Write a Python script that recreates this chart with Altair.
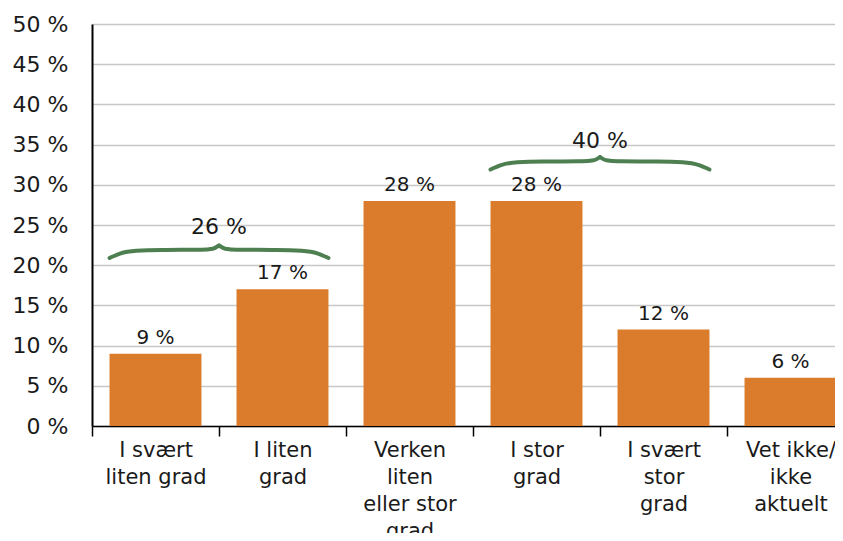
import json
import altair as alt
import pandas as pd

# ---- data ----
categories = ["I svært\nliten grad", "I liten\ngrad", "Verken\nliten\neller stor\ngrad",
              "I stor\ngrad", "I svært\nstor\ngrad", "Vet ikke/\nikke\naktuelt"]
values = [9, 17, 28, 28, 12, 6]

group_labels = ["26 %", "40 %"]
group_start = [0, 3]          # index of first category in each bracket
group_level = [21.9, 32.9]    # y level (%) of the bracket's flat part
group_label_y = [24.8, 35.4]  # y (%) of the bracket's label

# brace profile (half brace): x offset in category units, y offset in %
brace_dx = [0.138, 0.22, 0.35, 0.55, 0.86, 0.95, 1.0]
brace_dy = [-1.0, -0.45, -0.1, 0.0, 0.02, 0.15, 0.55]

BAR = "#DA7C2C"
GREEN = "#4D7F51"
FONT = "DejaVu Sans"
TEXT = "#1a1a1a"
PLOT_W = 743          # visible plot width (the reference is cropped at the right)
STEP = 127            # pixel width of one category slot in the reference
BAR_FRAC = 0.724
X_MAX = PLOT_W / STEP

n = len(categories)
bars_df = pd.DataFrame({"idx": list(range(n)), "val": values,
                        "lab": [f"{v} %" for v in values]})
bars_df["x0"] = bars_df["idx"] + (1 - BAR_FRAC) / 2
bars_df["x1"] = bars_df["idx"] + (1 + BAR_FRAC) / 2
bars_df["xc"] = bars_df["idx"] + 0.5

rows = []
for g, (s, lvl) in enumerate(zip(group_start, group_level)):
    for half in (0, 1):
        for dx, dy in zip(brace_dx, brace_dy):
            x = s + dx if half == 0 else s + 2 - dx
            rows.append({"seg": f"{g}-{half}", "x": x, "val": lvl + dy})
brace_df = pd.DataFrame(rows)
glab_df = pd.DataFrame({"x": [s + 1 for s in group_start], "val": group_label_y,
                        "lab": group_labels})

cat_js = "[" + ",".join(json.dumps(c, ensure_ascii=False) for c in categories) + "]"
label_expr = f"split({cat_js}[round(datum.value - 0.5)], '\\n')"

xscale = alt.Scale(domain=[0, X_MAX], nice=False, zero=False)
x_labels_axis = alt.Axis(values=[i + 0.5 for i in range(n)], labelExpr=label_expr,
                         labelAngle=0, labelLineHeight=27, labelPadding=13,
                         labelFontSize=21, labelFont=FONT, labelColor=TEXT,
                         ticks=False, domainColor="black", domainWidth=1.5,
                         grid=False, labelLimit=300, labelFlush=False,
                         labelOverlap=False, orient="bottom")
x_ticks_axis = alt.Axis(values=list(range(n)), labels=False, ticks=True, tickSize=10,
                        tickWidth=1.5, tickColor="black", domain=False, grid=False,
                        orient="bottom")

yq = alt.Y("val:Q", title=None,
           scale=alt.Scale(domain=[0, 50], nice=False),
           axis=alt.Axis(values=list(range(0, 55, 5)), labelExpr="datum.value + ' %'",
                         labelFontSize=22, labelFont=FONT, labelColor=TEXT,
                         labelPadding=24, ticks=False, domainColor="black",
                         domainWidth=2, gridColor="#C8C8C8", gridWidth=1.5))

bars = alt.Chart(bars_df).mark_bar(color=BAR).encode(
    x=alt.X("x0:Q", scale=xscale, axis=x_labels_axis, title=None),
    x2="x1:Q", y=yq, y2=alt.datum(0))
bar_text = alt.Chart(bars_df).mark_text(font=FONT, fontSize=20, color=TEXT,
                                         baseline="alphabetic", dy=-10).encode(
    x=alt.X("xc:Q", scale=xscale), y=yq, text="lab:N")
base = alt.layer(bars, bar_text)

xq = alt.X("x:Q", scale=xscale, axis=x_ticks_axis, title=None)
braces = alt.Chart(brace_df).mark_line(color=GREEN, strokeWidth=4, interpolate="monotone",
                                       strokeCap="round").encode(
    x=xq, y=yq, detail="seg:N")
glabels = alt.Chart(glab_df).mark_text(font=FONT, fontSize=22, color=TEXT,
                                       baseline="middle").encode(
    x=alt.X("x:Q", scale=xscale), y=yq, text="lab:N")
over = alt.layer(braces, glabels)

chart = alt.layer(base, over).resolve_scale(x="independent").properties(
    width=PLOT_W, height=402,
    autosize=alt.AutoSizeParams(type="none"),
    padding={"left": 84, "top": 16, "right": 0, "bottom": 107},
).configure_view(strokeWidth=0)

chart.save("out.html", embed_options={"renderer": "svg", "actions": False})
